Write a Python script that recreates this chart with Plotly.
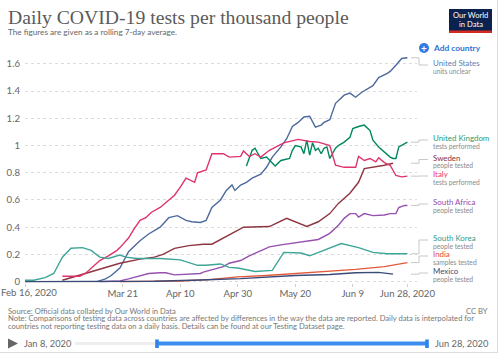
import plotly.graph_objects as go
import pandas as pd

# ---------------- data ----------------
us_dates = ["2020-03-12", "2020-03-15", "2020-03-17", "2020-03-20", "2020-03-23", "2020-03-27", "2020-03-30",
            "2020-04-03", "2020-04-06", "2020-04-09", "2020-04-12", "2020-04-14", "2020-04-17", "2020-04-19",
            "2020-04-21", "2020-04-24", "2020-04-26", "2020-04-28", "2020-04-29", "2020-05-01", "2020-05-03",
            "2020-05-05", "2020-05-08", "2020-05-10", "2020-05-12", "2020-05-15", "2020-05-17", "2020-05-19",
            "2020-05-21", "2020-05-23", "2020-05-25", "2020-05-27", "2020-05-29", "2020-05-30", "2020-06-01",
            "2020-06-03", "2020-06-06", "2020-06-08", "2020-06-10", "2020-06-12", "2020-06-16", "2020-06-18",
            "2020-06-21", "2020-06-22", "2020-06-24", "2020-06-26", "2020-06-28"]
us_vals = [0.0, 0.02, 0.045, 0.1, 0.22, 0.3, 0.35,
           0.4, 0.47, 0.485, 0.45, 0.44, 0.435, 0.45,
           0.545, 0.6, 0.67, 0.71, 0.67, 0.71, 0.73,
           0.76, 0.79, 0.84, 0.915, 0.99, 1.05, 1.14,
           1.17, 1.21, 1.215, 1.135, 1.15, 1.17, 1.19,
           1.31, 1.37, 1.385, 1.355, 1.39, 1.44, 1.5,
           1.53, 1.545, 1.59, 1.64, 1.645]

uk_dates = ["2020-05-03", "2020-05-05", "2020-05-06", "2020-05-08", "2020-05-10", "2020-05-12", "2020-05-13",
            "2020-05-15", "2020-05-18", "2020-05-19", "2020-05-20", "2020-05-22", "2020-05-23", "2020-05-24",
            "2020-05-25", "2020-05-26", "2020-05-27", "2020-05-28", "2020-05-29", "2020-05-30", "2020-05-31",
            "2020-06-01", "2020-06-03", "2020-06-04", "2020-06-06", "2020-06-08", "2020-06-09", "2020-06-11",
            "2020-06-13", "2020-06-15", "2020-06-16", "2020-06-18", "2020-06-20", "2020-06-22", "2020-06-23",
            "2020-06-24", "2020-06-25", "2020-06-27", "2020-06-28"]
uk_vals = [0.85, 0.965, 0.98, 0.905, 0.915, 0.87, 0.85,
           0.89, 0.905, 0.965, 1.0, 0.99, 0.94, 1.04,
           0.93, 1.02, 0.965, 0.98, 0.94, 0.98, 0.99,
           0.905, 0.98, 1.0, 1.025, 1.06, 1.125, 1.14,
           1.15, 1.11, 1.04, 0.99, 0.95, 0.915, 0.905,
           0.905, 0.99, 1.015, 1.025]

se_dates = ["2020-02-29", "2020-03-10", "2020-03-15", "2020-03-20", "2020-03-27", "2020-04-01", "2020-04-04",
            "2020-04-08", "2020-04-13", "2020-04-18", "2020-04-21", "2020-04-25", "2020-04-28", "2020-05-02",
            "2020-05-11", "2020-05-17", "2020-05-24", "2020-05-28", "2020-06-01", "2020-06-04", "2020-06-08",
            "2020-06-11", "2020-06-13", "2020-06-16", "2020-06-20", "2020-06-23"]
se_vals = [0.01, 0.07, 0.105, 0.135, 0.165, 0.18, 0.2,
           0.245, 0.265, 0.275, 0.275, 0.32, 0.355, 0.4,
           0.405, 0.465, 0.405, 0.44, 0.5, 0.575, 0.65,
           0.73, 0.83, 0.84, 0.855, 0.87]

it_dates = ["2020-02-29", "2020-03-06", "2020-03-08", "2020-03-10", "2020-03-13", "2020-03-16", "2020-03-19",
            "2020-03-20", "2020-03-23", "2020-03-25", "2020-03-27", "2020-03-29", "2020-03-31", "2020-04-03",
            "2020-04-06", "2020-04-08", "2020-04-10", "2020-04-12", "2020-04-15", "2020-04-16", "2020-04-19",
            "2020-04-21", "2020-04-25", "2020-04-27", "2020-05-01", "2020-05-02", "2020-05-04", "2020-05-06",
            "2020-05-08", "2020-05-11", "2020-05-16", "2020-05-21", "2020-05-25", "2020-05-28", "2020-06-01",
            "2020-06-03", "2020-06-06", "2020-06-10", "2020-06-11", "2020-06-13", "2020-06-15", "2020-06-17",
            "2020-06-18", "2020-06-20", "2020-06-22", "2020-06-24", "2020-06-26", "2020-06-28"]
it_vals = [0.04, 0.04, 0.06, 0.1, 0.155, 0.19, 0.23,
           0.25, 0.32, 0.39, 0.45, 0.47, 0.51, 0.545,
           0.6, 0.635, 0.695, 0.76, 0.73, 0.8, 0.82,
           0.94, 0.94, 0.915, 0.92, 0.96, 0.92, 0.94,
           0.915, 0.965, 1.02, 1.045, 1.03, 1.025, 1.0,
           0.855, 0.84, 0.84, 0.92, 0.89, 0.905, 0.88,
           0.91, 0.875, 0.855, 0.78, 0.77, 0.775]

za_dates = ["2020-03-13", "2020-03-20", "2020-03-23", "2020-03-27", "2020-03-30", "2020-04-03", "2020-04-05",
            "2020-04-08", "2020-04-13", "2020-04-17", "2020-04-18", "2020-04-22", "2020-04-25", "2020-04-27",
            "2020-05-01", "2020-05-04", "2020-05-08", "2020-05-11", "2020-05-15", "2020-05-18", "2020-05-21",
            "2020-05-25", "2020-05-28", "2020-06-01", "2020-06-04", "2020-06-06", "2020-06-08", "2020-06-10",
            "2020-06-11", "2020-06-13", "2020-06-16", "2020-06-20", "2020-06-22", "2020-06-24", "2020-06-25",
            "2020-06-27", "2020-06-28"]
za_vals = [0.0, 0.005, 0.02, 0.045, 0.06, 0.065, 0.065,
           0.05, 0.055, 0.06, 0.07, 0.095, 0.11, 0.135,
           0.155, 0.19, 0.23, 0.255, 0.27, 0.28, 0.29,
           0.3, 0.31, 0.355, 0.415, 0.465, 0.5, 0.5,
           0.475, 0.5, 0.485, 0.49, 0.5, 0.5, 0.545,
           0.56, 0.56]

kr_dates = ["2020-02-16", "2020-02-19", "2020-02-23", "2020-02-26", "2020-02-29", "2020-03-03", "2020-03-07",
            "2020-03-10", "2020-03-13", "2020-03-16", "2020-03-20", "2020-03-22", "2020-03-26", "2020-04-03",
            "2020-04-10", "2020-04-16", "2020-04-19", "2020-04-24", "2020-04-27", "2020-04-30", "2020-05-06",
            "2020-05-12", "2020-05-16", "2020-05-22", "2020-05-25", "2020-06-01", "2020-06-05", "2020-06-11",
            "2020-06-16", "2020-06-21", "2020-06-28"]
kr_vals = [0.01, 0.01, 0.03, 0.06, 0.18, 0.245, 0.25,
           0.23, 0.18, 0.17, 0.195, 0.18, 0.17, 0.17,
           0.16, 0.12, 0.12, 0.13, 0.105, 0.1, 0.075,
           0.083, 0.215, 0.21, 0.19, 0.245, 0.28, 0.25,
           0.215, 0.205, 0.205]

in_dates = ["2020-03-20", "2020-04-10", "2020-04-20", "2020-04-30", "2020-05-10", "2020-05-20", "2020-06-01",
            "2020-06-10", "2020-06-20", "2020-06-24", "2020-06-28"]
in_vals = [0.0, 0.005, 0.015, 0.035, 0.045, 0.06, 0.075,
           0.09, 0.11, 0.125, 0.14]

mx_dates = ["2020-02-16", "2020-03-20", "2020-04-01", "2020-04-17", "2020-05-01", "2020-05-20", "2020-06-01",
            "2020-06-10", "2020-06-18", "2020-06-23"]
mx_vals = [0.0, 0.0, 0.003, 0.012, 0.022, 0.045, 0.052,
           0.065, 0.068, 0.055]

countries = ["United States", "United Kingdom", "Sweden", "Italy", "South Africa", "South Korea", "India", "Mexico"]
units = ["units unclear", "tests performed", "people tested", "tests performed", "people tested",
         "people tested", "samples tested", "people tested"]
series_dates = [us_dates, uk_dates, se_dates, it_dates, za_dates, kr_dates, in_dates, mx_dates]
series_vals = [us_vals, uk_vals, se_vals, it_vals, za_vals, kr_vals, in_vals, mx_vals]

x_tick_dates = ["2020-02-16", "2020-03-21", "2020-04-10", "2020-04-30", "2020-05-20", "2020-06-09", "2020-06-28"]
x_tick_text = ["Feb 16, 2020", "Mar 21", "Apr 10", "Apr 30", "May 20", "Jun 9", "Jun 28, 2020"]

# ---------------- styling / layout ----------------
colors = ["#4C6A9C", "#00875E", "#8E3440", "#E0336B", "#9650B0", "#3DA597", "#E3593B", "#3A4B78"]
label_colors = ["#5F7DB0", "#2E9A6C", "#8E2F3C", "#E8336B", "#8E4DAE", "#2E9D8C", "#E04A36", "#3A4B78"]
label_y_px = [63, 138, 157.5, 174, 202, 238, 254, 271]

W, H = 500, 356
ML, MR, MT, MB = 25, 83, 53, 73
PW, PH = W - ML - MR, H - MT - MB
X0, X1 = pd.Timestamp("2020-02-16"), pd.Timestamp("2020-07-01 08:00")
Y0, Y1 = -0.01, 1.68
FONT = "Lato, 'Open Sans', sans-serif"
TICKFONT = dict(family=FONT, size=9.6, color="#666666")


def px(x):
    return (x - ML) / PW


def py(y):
    return (H - MB - y) / PH


def data_py(v):
    return (v - Y0) / (Y1 - Y0)


fig = go.Figure()
for name, d, v, c in zip(countries, series_dates, series_vals, colors):
    fig.add_trace(go.Scatter(x=pd.to_datetime(d), y=v, mode="lines", name=name,
                             line=dict(color=c, width=1.4), hoverinfo="skip", showlegend=False))

shapes = []
annotations = []


def text(x, y, s, size, color, anchor="left", family=FONT):
    annotations.append(dict(xref="paper", yref="paper", x=px(x), y=py(y), text=s,
                            showarrow=False, xanchor=anchor, yanchor="middle", borderpad=0,
                            font=dict(family=family, size=size, color=color)))


# end labels and connectors
for name, unit, d, v, lc, ly in zip(countries, units, series_dates, series_vals, label_colors, label_y_px):
    yp = data_py(v[-1])
    path = "M {a},{b} L {c},{b} L {c},{e} L {f},{e}".format(
        a=px(411), b=yp, c=px(419), e=py(ly + 2), f=px(428))
    shapes.append(dict(type="path", xref="paper", yref="paper", path=path,
                       line=dict(color="#c8c8c8", width=1)))
    text(432, ly, name, 7.9, lc)
    text(432, ly + 7.8, unit, 6.7, "#8a8a8a")

# title / subtitle
text(7, 17, "Daily COVID-19 tests per thousand people", 19.7, "#5b5b5b",
     family="'Liberation Serif', 'DejaVu Serif', serif")
text(7, 32, "The figures are given as a rolling 7-day average.", 8.2, "#666666")

# logo
shapes.append(dict(type="rect", xref="paper", yref="paper", x0=px(449), x1=px(492), y0=py(33), y1=py(9),
                   fillcolor="#0b2250", line=dict(width=0)))
shapes.append(dict(type="rect", xref="paper", yref="paper", x0=px(449), x1=px(492), y0=py(33), y1=py(30.5),
                   fillcolor="#d42b21", line=dict(width=0)))
text(470.5, 15.5, "Our World", 7.6, "white", anchor="center")
text(470.5, 24, "in Data", 7.6, "white", anchor="center")

# add country
shapes.append(dict(type="circle", xref="paper", yref="paper", x0=px(419), x1=px(429), y0=py(53), y1=py(43),
                   fillcolor="#2f7de1", line=dict(width=0)))
text(424, 47.6, "<b>+</b>", 10, "white", anchor="center")
text(432, 48, "<b>Add country</b>", 8.4, "#2f72d6")

# first x tick label, kept inside the page like the reference
text(0, 292.7, x_tick_text[0], 9.6, "#666666")

# footer
footer_lines = ["Source: Official data collated by Our World in Data",
                "Note: Comparisons of testing data across countries are affected by differences in the way the data are reported. Daily data is interpolated for",
                "countries not reporting testing data on a daily basis. Details can be found at our Testing Dataset page."]
for i, t in enumerate(footer_lines):
    text(7, 310.5 + 7.8 * i, t, 7.6, "#777777")
text(489, 310.5, "CC BY", 7.6, "#777777", anchor="right")

# timeline slider
shapes.append(dict(type="path", xref="paper", yref="paper",
                   path="M {},{} L {},{} L {},{} Z".format(px(8), py(338.5), px(18), py(343.5), px(8), py(348.5)),
                   fillcolor="#666666", line=dict(width=0)))
text(23, 343.5, "Jan 8, 2020", 9.3, "#666666")
text(434, 343.5, "Jun 28, 2020", 9.3, "#666666")
shapes.append(dict(type="rect", xref="paper", yref="paper", x0=px(75), x1=px(428), y0=py(345), y1=py(342),
                   fillcolor="#eeeeee", line=dict(width=0)))
shapes.append(dict(type="rect", xref="paper", yref="paper", x0=px(156), x1=px(428), y0=py(345.5), y1=py(341.5),
                   fillcolor="#3c8df0", line=dict(width=0)))
for hx in (157, 427):
    shapes.append(dict(type="rect", xref="paper", yref="paper", x0=px(hx - 1.8), x1=px(hx + 1.8),
                       y0=py(348), y1=py(339.5), fillcolor="#2f82ea", line=dict(width=0)))

# frame lines
shapes.append(dict(type="line", xref="paper", yref="paper", x0=px(0), x1=px(498), y0=py(352.5), y1=py(352.5),
                   line=dict(color="#dddddd", width=1)))
shapes.append(dict(type="line", xref="paper", yref="paper", x0=px(497.5), x1=px(497.5), y0=py(0), y1=py(352.5),
                   line=dict(color="#dddddd", width=1)))

fig.update_layout(
    width=W, height=H,
    margin=dict(l=ML, r=MR, t=MT, b=MB, pad=0, autoexpand=False),
    paper_bgcolor="white", plot_bgcolor="white",
    showlegend=False,
    font=dict(family=FONT, color="#666666"),
    shapes=shapes, annotations=annotations,
    xaxis=dict(type="date", range=[X0, X1], tickvals=pd.to_datetime(x_tick_dates),
               ticktext=[""] + x_tick_text[1:],
               showgrid=False, zeroline=False, showline=False, ticks="outside", ticklen=3,
               tickcolor="#d0d0d0", tickfont=TICKFONT, ticklabelstandoff=-2,
               automargin=False, ticklabeloverflow="allow"),
    yaxis=dict(range=[Y0, Y1], tick0=0, dtick=0.2, showgrid=True, gridcolor="#dcdcdc", griddash="dot",
               gridwidth=1, zeroline=False, showline=False, ticks="", ticklabelstandoff=4,
               tickfont=TICKFONT, automargin=False, ticklabeloverflow="allow"),
)

fig.write_html("out.html", config={"displayModeBar": False},
               post_script="document.body.style.margin='0';document.body.style.overflow='hidden';")
